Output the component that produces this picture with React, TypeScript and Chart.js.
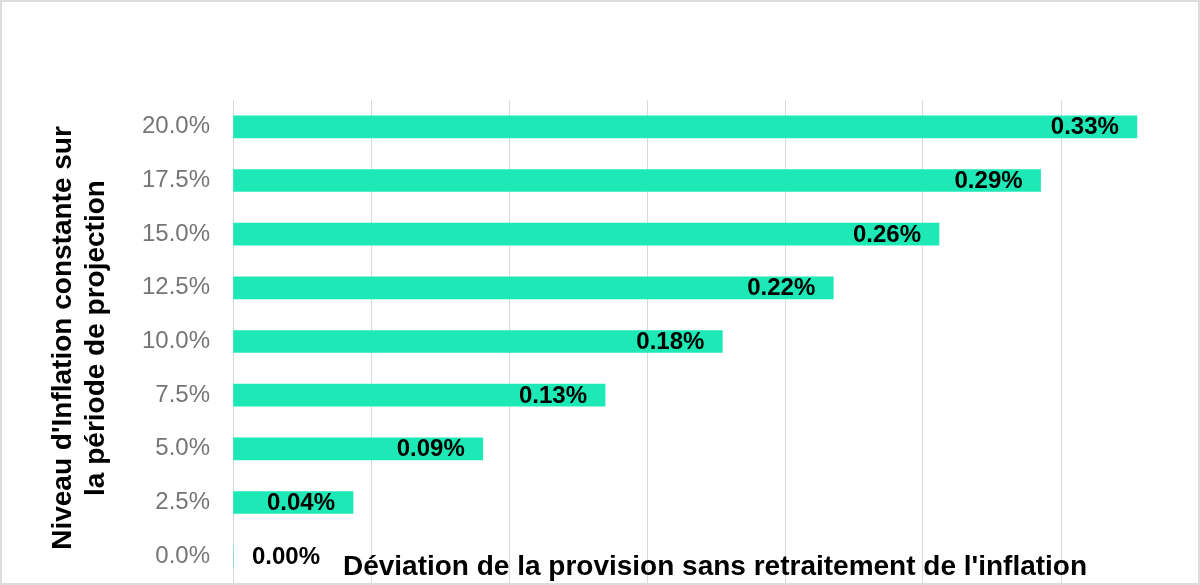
import React, { useEffect, useRef } from "react";
import { Chart, registerables } from "chart.js";

Chart.register(...registerables);

const categories = ["0.0%", "2.5%", "5.0%", "7.5%", "10.0%", "12.5%", "15.0%", "17.5%", "20.0%"];
const deviationValues = [0, 0.0435, 0.0905, 0.1348, 0.1773, 0.2175, 0.2558, 0.2926, 0.3275];
const xTitle = "Déviation de la provision sans retraitement de l'inflation";
const yTitleLines = ["Niveau d'Inflation constante sur", "la période de projection"];

const FONT = "'Liberation Sans', Arial, sans-serif";
const BAR_COLOR = "#1DE9B6";
const GRID_COLOR = "#d9d9d9";

const decorPlugin = {
  id: "decor",
  afterDatasetsDraw(chart: any) {
    const ctx = chart.ctx;
    const meta = chart.getDatasetMeta(0);
    const xScale = chart.scales.x;
    const base = xScale.getPixelForValue(0);
    ctx.save();
    ctx.font = `bold 24px ${FONT}`;
    ctx.fillStyle = "#000";
    ctx.textBaseline = "middle";
    meta.data.forEach((bar: any, i: number) => {
      const v = deviationValues[i];
      const text = v.toFixed(2) + "%";
      const w = ctx.measureText(text).width;
      const right = bar.x - 18;
      if (right - w < base + 18) {
        ctx.textAlign = "left";
        ctx.fillText(text, base + 19, bar.y + 1);
      } else {
        ctx.textAlign = "right";
        ctx.fillText(text, right, bar.y + 1);
      }
    });
    ctx.restore();
  },
  afterDraw(chart: any) {
    const ctx = chart.ctx;
    ctx.save();
    ctx.font = `bold 28px ${FONT}`;
    ctx.fillStyle = "#000";
    ctx.textAlign = "center";
    ctx.textBaseline = "alphabetic";
    ctx.fillText(xTitle, 715, 575);
    ctx.translate(0, 338);
    ctx.rotate(-Math.PI / 2);
    ctx.textBaseline = "middle";
    ctx.fillText(yTitleLines[0], 0, 63);
    ctx.fillText(yTitleLines[1], 0, 96);
    ctx.restore();
    ctx.save();
    ctx.strokeStyle = "#dcdcdc";
    ctx.lineWidth = 2;
    ctx.strokeRect(1, 1, chart.width - 2, chart.height - 2);
    ctx.restore();
  },
};

export default function App() {
  const canvasRef = useRef<HTMLCanvasElement | null>(null);

  useEffect(() => {
    document.body.style.margin = "0";
    const canvas = canvasRef.current;
    if (!canvas) return;
    const chart = new Chart(canvas, {
      type: "bar",
      data: {
        labels: categories,
        datasets: [
          {
            data: deviationValues,
            backgroundColor: BAR_COLOR,
            borderWidth: 0,
            barThickness: 22,
          },
        ],
      },
      options: {
        indexAxis: "y",
        animation: false,
        responsive: false,
        maintainAspectRatio: false,
        layout: { padding: { top: 100, bottom: 2, right: 1, left: 0 } },
        plugins: {
          legend: { display: false },
          tooltip: { enabled: false },
          title: { display: false },
        },
        scales: {
          x: {
            min: 0,
            max: 0.35,
            ticks: { display: false, stepSize: 0.05 },
            grid: { color: GRID_COLOR, drawTicks: false, lineWidth: 1 },
            border: { display: false },
            afterFit: (s: any) => {
              s.height = 0;
              s.paddingLeft = 0;
              s.paddingRight = 0;
            },
          },
          y: {
            reverse: true,
            grid: { display: false, drawTicks: false },
            border: { display: true, color: GRID_COLOR, width: 1 },
            ticks: {
              color: "#757575",
              font: { size: 24, family: FONT },
              padding: 23,
            },
            afterFit: (s: any) => {
              s.width = 233;
              s.paddingTop = 0;
              s.paddingBottom = 0;
            },
          },
        },
      },
      plugins: [decorPlugin],
    });
    return () => chart.destroy();
  }, []);

  return (
    <div style={{ position: "absolute", left: 0, top: 0, width: 1200, height: 585 }}>
      <canvas ref={canvasRef} width={1200} height={585} style={{ width: 1200, height: 585, display: "block" }} />
    </div>
  );
}
